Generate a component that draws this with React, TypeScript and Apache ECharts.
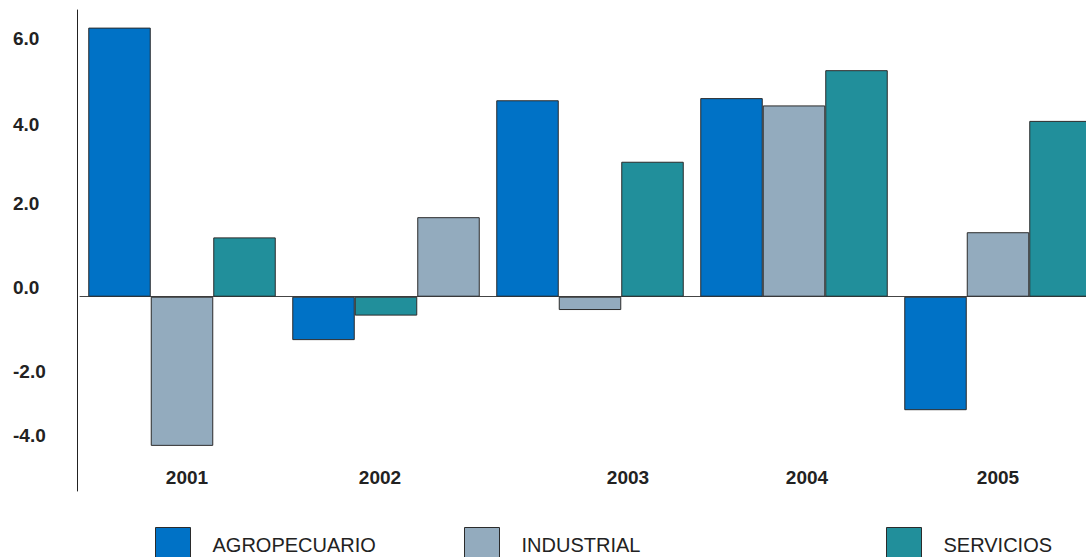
import { useEffect, useRef } from "react";
import * as echarts from "echarts";

// Annual growth by sector (%)
const years = ["2001", "2002", "2003", "2004", "2005"];
const agropecuario = [6.26, -1.01, 4.57, 4.62, -2.64];
const industrial = [-3.47, 1.85, -0.31, 4.45, 1.5];
const servicios = [1.38, -0.44, 3.14, 5.27, 4.09];
// years in which the SERVICIOS bar comes before the INDUSTRIAL bar
const serviciosFirstYears = ["2002"];
const yTicks = [-4, -2, 0, 2, 4, 6];

const COLORS = { agro: "#0072c6", ind: "#93abbe", serv: "#218f9b" };
const FONT = "'Liberation Sans', Arial, Helvetica, sans-serif";

// small nudges for the axis texts (px)
const yLabelLift: Record<number, number> = { 2: 7, 0: 9, [-2]: 11, [-4]: 33 };
const xLabelShift: Record<string, number> = { "2001": 5, "2002": -6, "2003": 38, "2004": 13, "2005": 0 };

export default function App() {
  const ref = useRef<HTMLDivElement>(null);

  useEffect(() => {
    if (!ref.current) return;
    const chart = echarts.init(ref.current, null, { renderer: "svg" });

    const servFirst = years.map((y) => serviciosFirstYears.includes(y));
    const pick = (arr: number[], cond: (i: number) => boolean) =>
      arr.map((v, i) => (cond(i) ? v : null));

    const barBase = {
      type: "bar" as const,
      barWidth: 62.5,
      barGap: "0%",
    };
    const style = (color: string) => ({ color, borderColor: "#2b2b2b", borderWidth: 1 });

    const yRich: Record<string, any> = {};
    yTicks.forEach((t, i) => {
      const lift = yLabelLift[t] || 0;
      yRich["y" + i] = {
        fontFamily: FONT,
        fontSize: 19,
        fontWeight: "bold",
        color: "#222",
        padding: [0, 0, lift * 2, 0],
      };
    });
    const xRich: Record<string, any> = {};
    years.forEach((y) => {
      const s = xLabelShift[y] || 0;
      xRich["x" + y] = {
        fontFamily: FONT,
        fontSize: 19,
        fontWeight: "bold",
        color: "#222",
        padding: s >= 0 ? [0, 0, 0, s * 2] : [0, -s * 2, 0, 0],
      };
    });

    const legendBase = {
      orient: "horizontal" as const,
      padding: 0,
      itemWidth: 35,
      itemHeight: 35,
      icon: "rect",
      selectedMode: false,
      top: 527,
      textStyle: { fontFamily: FONT, fontSize: 20, color: "#222", padding: [0, 0, 0, 17] },
      itemStyle: { borderColor: "#2b2b2b", borderWidth: 1 },
    };

    chart.setOption({
      animation: false,
      backgroundColor: "#ffffff",
      grid: {
        left: 80,
        right: -14,
        top: 10,
        bottom: 66,
        containLabel: false,
        outerBoundsMode: "none",
      },
      legend: [
        { ...legendBase, data: ["AGROPECUARIO"], left: 155 },
        { ...legendBase, data: ["INDUSTRIAL"], left: 464 },
        { ...legendBase, data: ["SERVICIOS"], left: 886 },
      ],
      xAxis: {
        type: "category",
        data: years,
        axisLine: { onZero: true, lineStyle: { color: "#444", width: 1 } },
        axisTick: { show: false },
        splitLine: { show: false },
        axisLabel: {
          margin: -23,
          formatter: (v: string) => `{x${v}|${v}}`,
          rich: xRich,
        },
      },
      yAxis: {
        type: "value",
        min: -4.52,
        max: 6.67,
        minInterval: 2,
        maxInterval: 2,
        offset: 3,
        axisLine: { show: true, lineStyle: { color: "#222", width: 1 } },
        axisTick: { show: false },
        splitLine: { show: false },
        axisLabel: {
          showMinLabel: false,
          showMaxLabel: false,
          align: "left",
          margin: 64,
          formatter: (v: number) => {
            const i = yTicks.indexOf(Math.round(v));
            return `{y${i}|${v.toFixed(1)}}`;
          },
          rich: yRich,
        },
      },
      series: [
        { ...barBase, name: "AGROPECUARIO", stack: "a", data: agropecuario, itemStyle: style(COLORS.agro) },
        { ...barBase, name: "INDUSTRIAL", stack: "b", data: pick(industrial, (i) => !servFirst[i]), itemStyle: style(COLORS.ind) },
        { ...barBase, name: "SERVICIOS", stack: "b", data: pick(servicios, (i) => servFirst[i]), itemStyle: style(COLORS.serv) },
        { ...barBase, name: "SERVICIOS", stack: "c", data: pick(servicios, (i) => !servFirst[i]), itemStyle: style(COLORS.serv) },
        { ...barBase, name: "INDUSTRIAL", stack: "c", data: pick(industrial, (i) => servFirst[i]), itemStyle: style(COLORS.ind) },
      ],
    });

    return () => chart.dispose();
  }, []);

  return (
    <div
      ref={ref}
      style={{ position: "absolute", left: 0, top: 0, width: 1086, height: 557, background: "#fff" }}
    />
  );
}
